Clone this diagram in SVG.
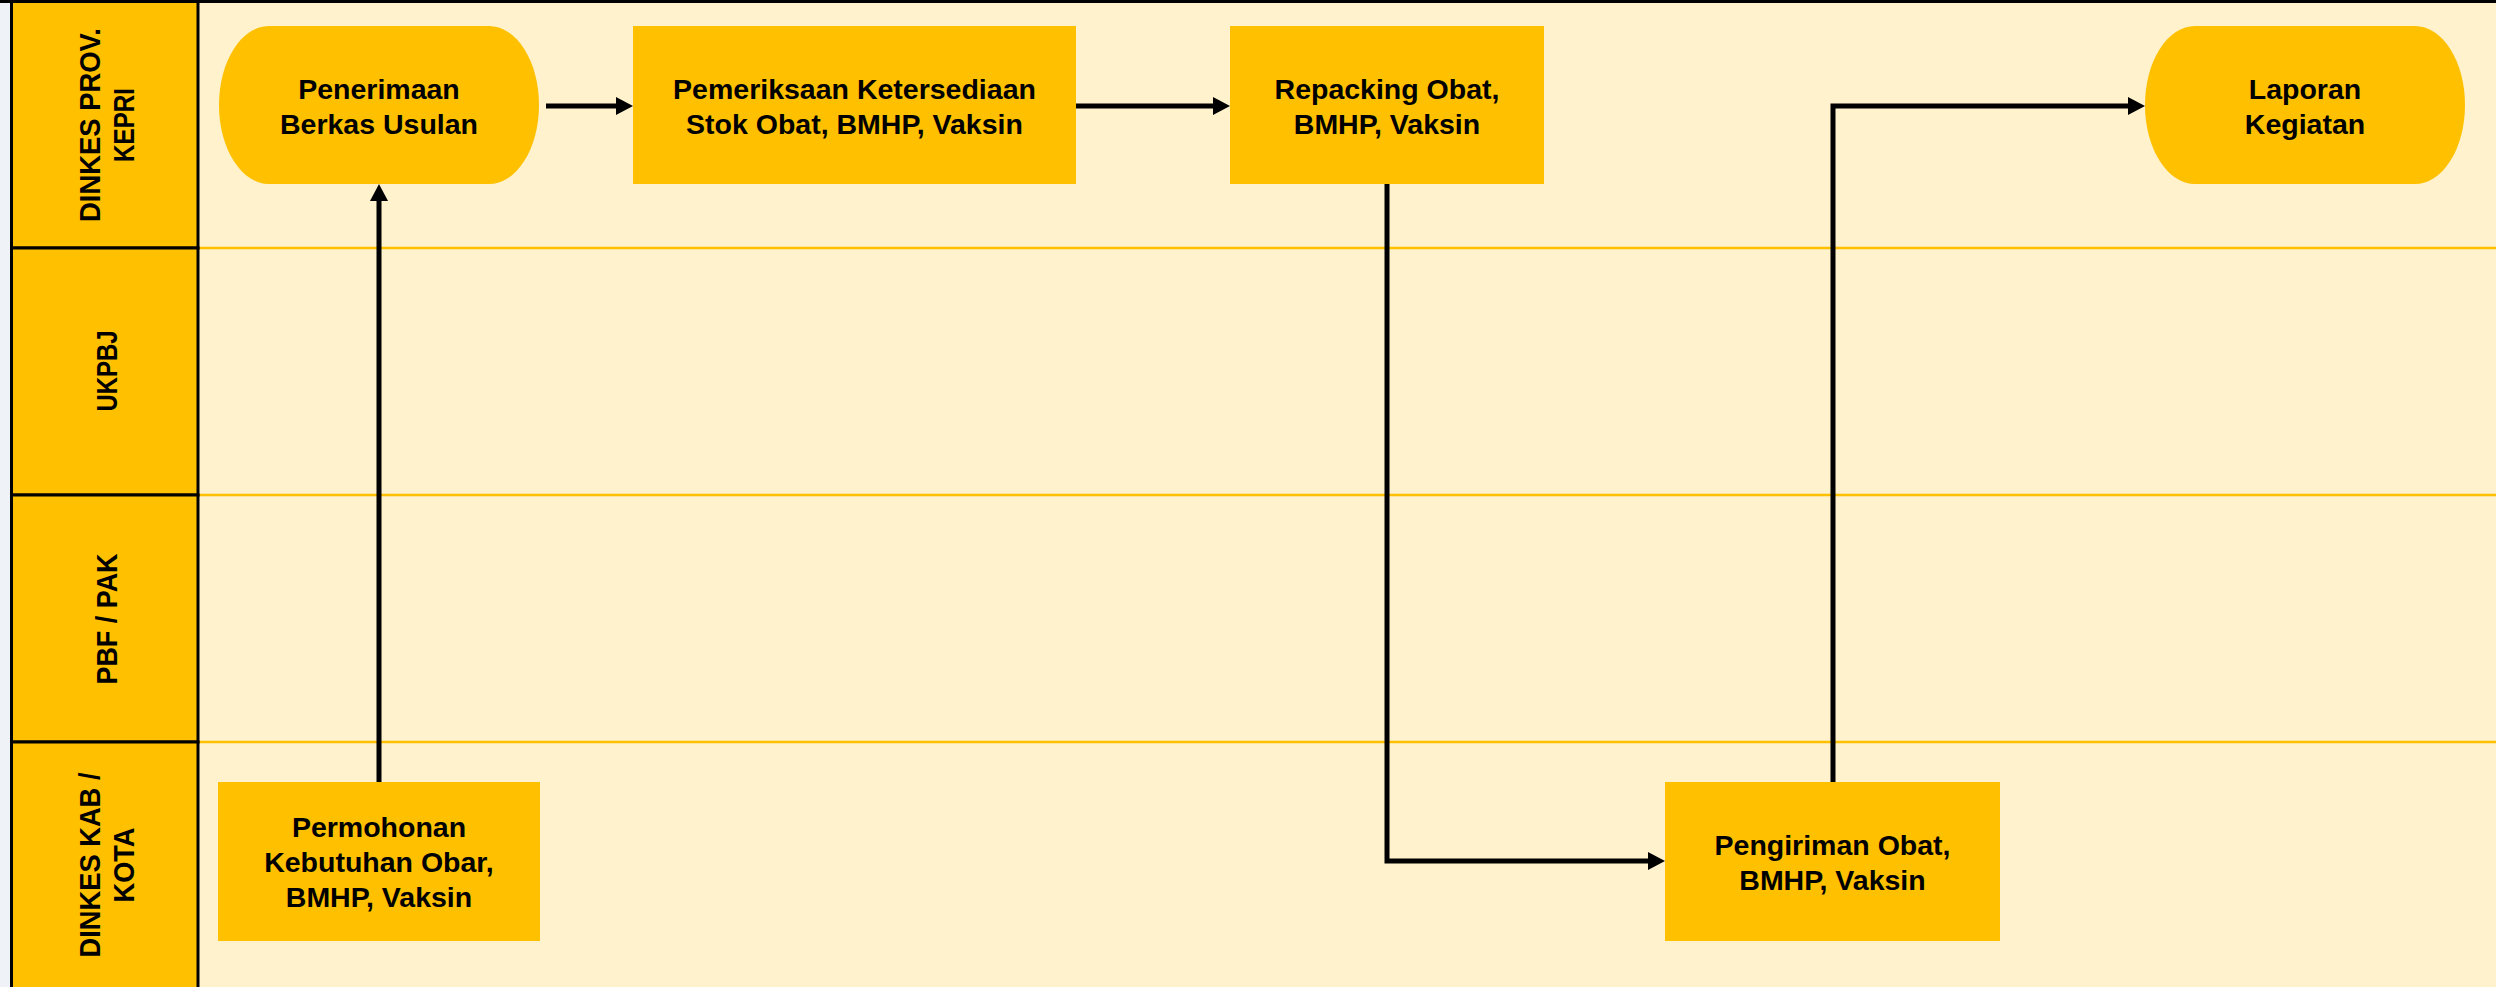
<svg xmlns="http://www.w3.org/2000/svg" width="2496" height="987" viewBox="0 0 2496 987">
<style>
.hdr{fill:#FFC000;stroke:#000;stroke-width:3}
.lane{stroke:#FFC000;stroke-width:2.5}
.node{fill:#FFC000}
.nt{font-family:"Liberation Sans",Arial,sans-serif;font-weight:bold;font-size:28.5px;fill:#000;text-anchor:middle}
.ht{font-family:"Liberation Sans",Arial,sans-serif;font-weight:bold;font-size:29px;fill:#000;text-anchor:middle}
.conn{fill:none;stroke:#000;stroke-width:5;stroke-linejoin:miter}
</style>
<defs>
<marker id="arr" markerUnits="userSpaceOnUse" markerWidth="18" markerHeight="19" refX="7" refY="9" orient="auto">
<path d="M0,0 L17,9 L0,18 Z" fill="#000"/>
</marker>
</defs>
<rect x="0" y="0" width="2496" height="987" fill="#FFF2CC"/>
<rect x="0" y="0" width="10" height="987" fill="#EFF2F6"/>
<g id="lanes">
<line class="lane" x1="198" y1="248" x2="2496" y2="248"/>
<line class="lane" x1="198" y1="495" x2="2496" y2="495"/>
<line class="lane" x1="198" y1="742" x2="2496" y2="742"/>
</g>
<g id="lane-dinkes-prov">
<rect class="hdr" x="11.5" y="1.5" width="186.5" height="246.5"/>
<g transform="translate(105,125) rotate(-90)">
<text class="ht" x="0" y="-5" textLength="194" lengthAdjust="spacingAndGlyphs">DINKES PROV.</text>
<text class="ht" x="0" y="29" textLength="74" lengthAdjust="spacingAndGlyphs">KEPRI</text>
</g>
</g>
<g id="lane-ukpbj">
<rect class="hdr" x="11.5" y="248" width="186.5" height="247"/>
<g transform="translate(105,371) rotate(-90)">
<text class="ht" x="0" y="12" textLength="81" lengthAdjust="spacingAndGlyphs">UKPBJ</text>
</g>
</g>
<g id="lane-pbf">
<rect class="hdr" x="11.5" y="495" width="186.5" height="247"/>
<g transform="translate(105,619) rotate(-90)">
<text class="ht" x="0" y="12" textLength="131" lengthAdjust="spacingAndGlyphs">PBF / PAK</text>
</g>
</g>
<g id="lane-dinkes-kab">
<rect class="hdr" x="11.5" y="742" width="186.5" height="250"/>
<g transform="translate(105,865) rotate(-90)">
<text class="ht" x="0" y="-5" textLength="185" lengthAdjust="spacingAndGlyphs">DINKES KAB /</text>
<text class="ht" x="0" y="29" textLength="75" lengthAdjust="spacingAndGlyphs">KOTA</text>
</g>
</g>
<line x1="0" y1="1.5" x2="2496" y2="1.5" stroke="#000" stroke-width="3"/>
<g id="connectors">
<path class="conn" d="M546,106 H623" marker-end="url(#arr)"/>
<path class="conn" d="M1076,106 H1220" marker-end="url(#arr)"/>
<path class="conn" d="M1387,184 V861 H1655" marker-end="url(#arr)"/>
<path class="conn" d="M1833,782 V106 H2135" marker-end="url(#arr)"/>
<path class="conn" d="M379,782 V194" marker-end="url(#arr)"/>
</g>
<g id="n-penerimaan">
<rect class="node" x="219" y="26" width="320" height="158" rx="50" ry="79"/>
<text class="nt" x="379" y="99">Penerimaan</text>
<text class="nt" x="379" y="134">Berkas Usulan</text>
</g>
<g id="n-pemeriksaan">
<rect class="node" x="633" y="26" width="443" height="158"/>
<text class="nt" x="854.5" y="99">Pemeriksaan Ketersediaan</text>
<text class="nt" x="854.5" y="134">Stok Obat, BMHP, Vaksin</text>
</g>
<g id="n-repacking">
<rect class="node" x="1230" y="26" width="314" height="158"/>
<text class="nt" x="1387" y="99">Repacking Obat,</text>
<text class="nt" x="1387" y="134">BMHP, Vaksin</text>
</g>
<g id="n-laporan">
<rect class="node" x="2145" y="26" width="320" height="158" rx="50" ry="79"/>
<text class="nt" x="2305" y="99">Laporan</text>
<text class="nt" x="2305" y="134">Kegiatan</text>
</g>
<g id="n-permohonan">
<rect class="node" x="218" y="782" width="322" height="159"/>
<text class="nt" x="379" y="837">Permohonan</text>
<text class="nt" x="379" y="872">Kebutuhan Obar,</text>
<text class="nt" x="379" y="907">BMHP, Vaksin</text>
</g>
<g id="n-pengiriman">
<rect class="node" x="1665" y="782" width="335" height="159"/>
<text class="nt" x="1832.5" y="855">Pengiriman Obat,</text>
<text class="nt" x="1832.5" y="890">BMHP, Vaksin</text>
</g>
</svg>
